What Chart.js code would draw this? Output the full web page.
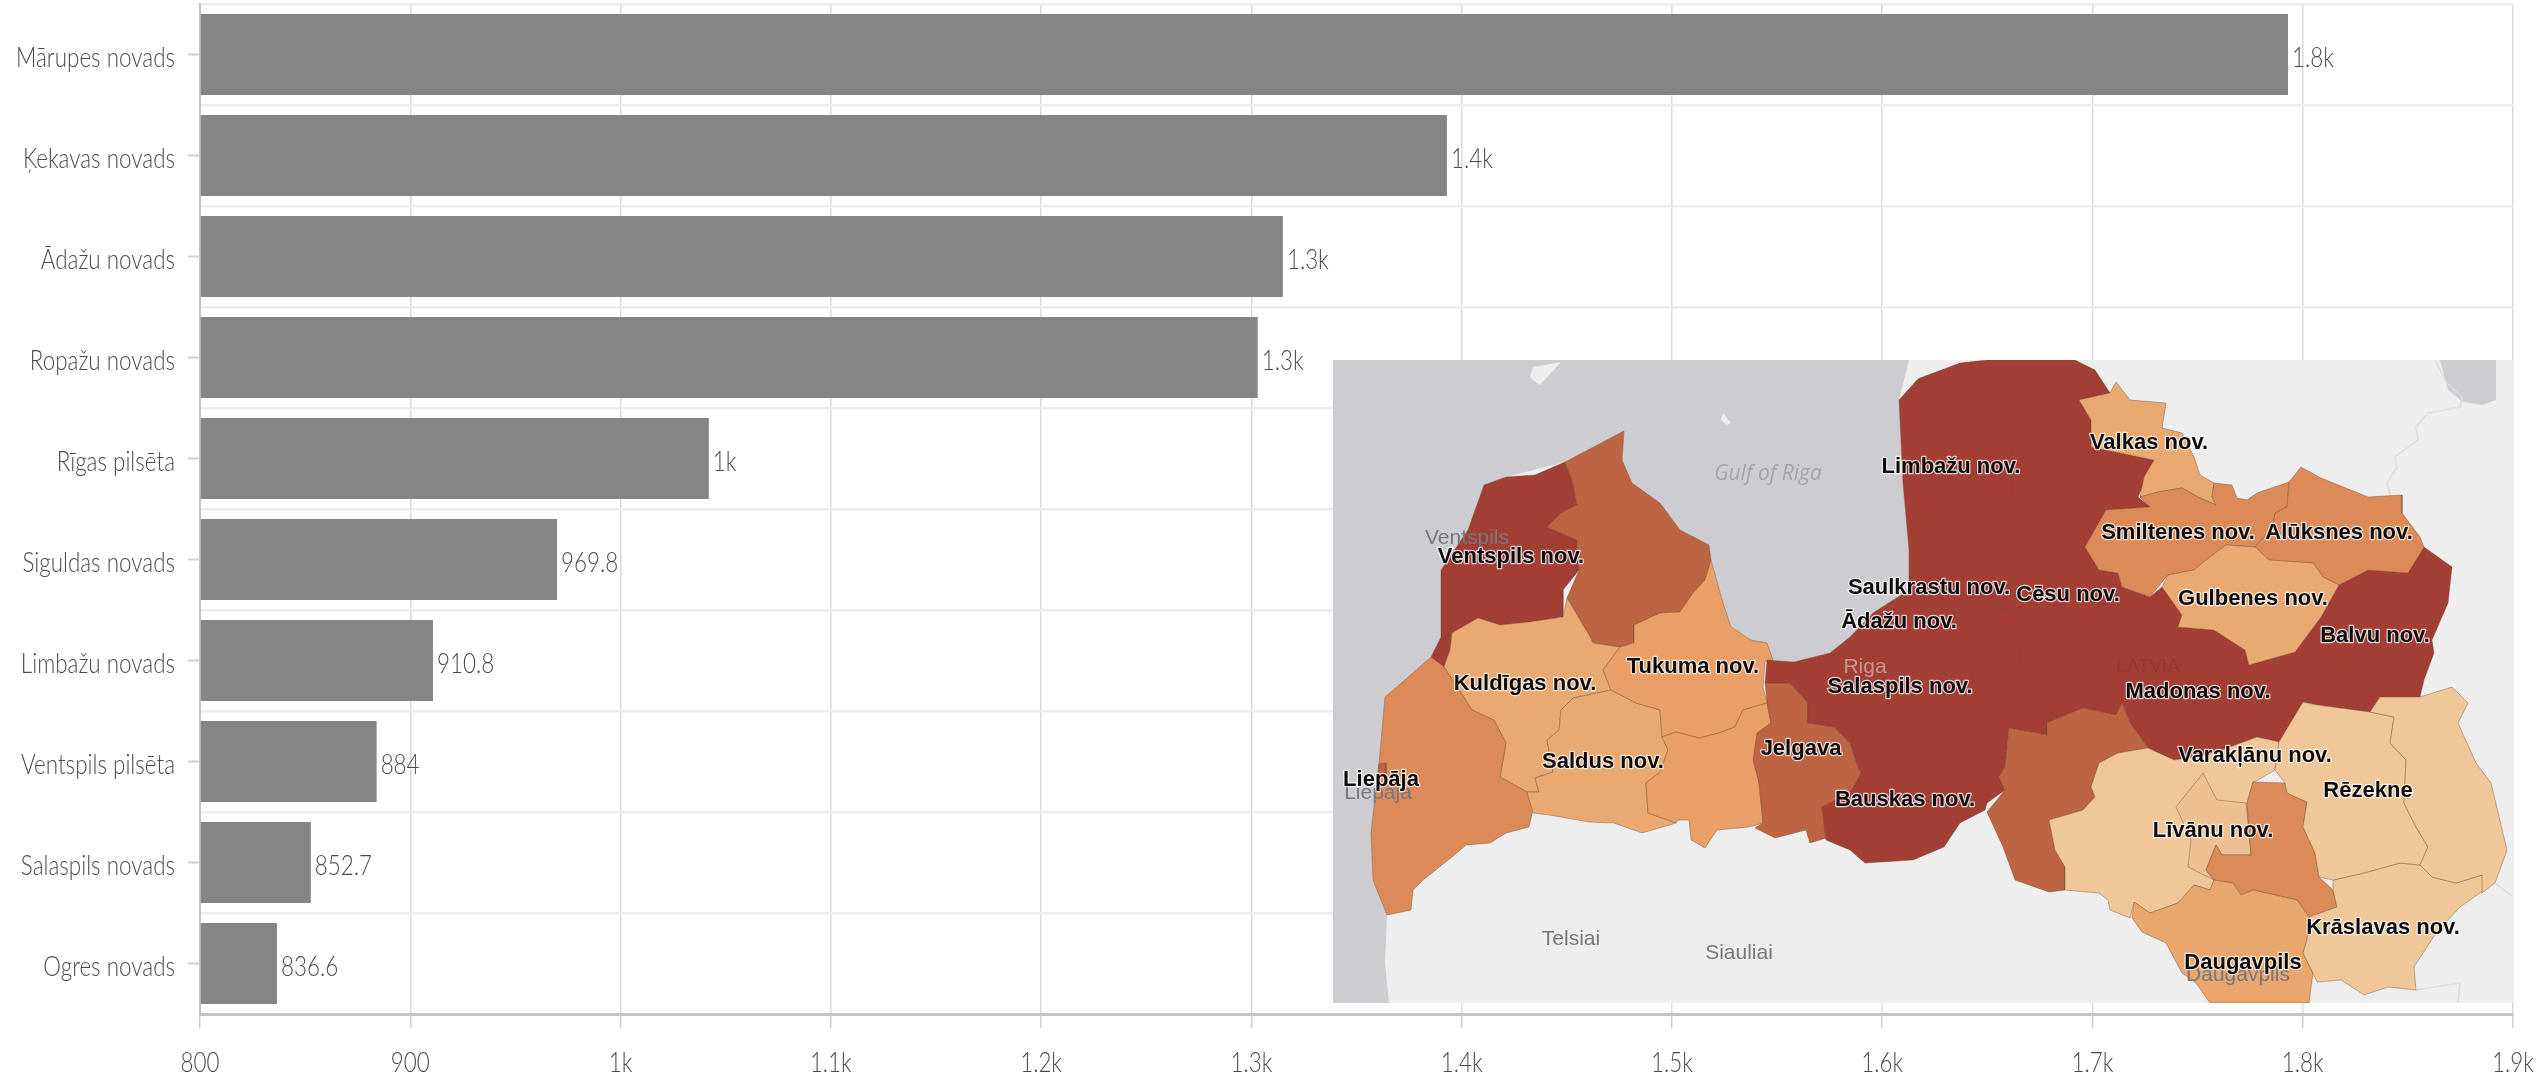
<!DOCTYPE html>
<html>
<head>
<meta charset="utf-8">
<style>
html, body { margin: 0; padding: 0; background: #fff; overflow: hidden; }
#barChart { position: absolute; left: 0; top: 0; filter: blur(0.4px); }
#mapChart { position: absolute; left: 1333px; top: 360px; filter: blur(0.5px); }
</style>
<script src="https://cdn.jsdelivr.net/npm/chart.js@4/dist/chart.umd.min.js"></script>
</head>
<body>
<canvas id="barChart" width="2542" height="1078"></canvas>
<canvas id="mapChart" width="1180" height="643"></canvas>
<script>
const categories = ['Mārupes novads', 'Ķekavas novads', 'Ādažu novads', 'Ropažu novads', 'Rīgas pilsēta',
    'Siguldas novads', 'Limbažu novads', 'Ventspils pilsēta', 'Salaspils novads', 'Ogres novads'];
const values = [1793, 1393, 1315, 1303, 1042, 969.8, 910.8, 884, 852.7, 836.6];
const tickValues = [800, 900, 1000, 1100, 1200, 1300, 1400, 1500, 1600, 1700, 1800, 1900];

// map outlines, in map units (0-1180 across, 0-643 down)
const sea = [[0,0],[576,0],[566,40],[570,123],[576,190],[576,230],[540,253],[517,277],[497,293],[461,302],[434,300],[418,280],[398,267],[390,243],[378,200],[376,185],[347,170],[327,143],[299,123],[289,100],[291,71],[232,102],[173,117],[151,125],[135,170],[108,210],[108,277],[98,297],[74,318],[52,337],[46,403],[38,473],[40,520],[54,555],[52,603],[56,643],[0,643]];
const lake = [[1107,0],[1163,0],[1163,40],[1150,45],[1130,42],[1115,30]];
const islandA = [[200,7],[228,2],[207,25],[197,18]];
const islandB = [[390,53],[398,63],[393,65],[388,60]];
const ventspilsNov = [[232,102],[240,123],[244,145],[228,153],[214,167],[244,180],[246,210],[230,230],[230,257],[196,262],[167,265],[145,258],[119,273],[117,290],[111,307],[98,297],[108,277],[108,210],[135,170],[151,125],[173,117],[202,115]];
const talsi = [[291,71],[289,100],[299,123],[327,143],[347,170],[376,185],[378,200],[372,220],[360,233],[347,252],[327,253],[301,265],[301,283],[287,287],[260,283],[256,275],[234,238],[246,210],[244,180],[214,167],[228,153],[244,145],[240,123],[232,102]];
const kuldiga = [[145,258],[167,265],[196,262],[230,257],[234,238],[256,275],[260,283],[287,287],[270,310],[278,330],[240,338],[228,350],[226,370],[214,380],[220,412],[202,418],[206,432],[194,432],[185,427],[167,417],[173,383],[161,360],[139,350],[125,328],[111,307],[117,290],[119,273]];
const liepaja = [[98,297],[111,307],[125,328],[139,350],[161,360],[173,383],[167,417],[185,427],[194,432],[200,450],[196,467],[173,473],[157,483],[133,485],[119,497],[90,520],[80,530],[78,550],[54,555],[40,520],[38,473],[46,403],[52,337],[74,318]];
const liepajaCity = [[46,404],[53,403],[53,414],[45,414]];
const saldus = [[240,338],[278,330],[303,343],[327,350],[329,377],[335,390],[327,412],[313,423],[315,453],[343,463],[309,473],[281,463],[256,462],[216,455],[200,453],[194,432],[206,432],[202,418],[220,412],[214,380],[226,370],[228,350]];
const tukums = [[378,200],[390,243],[398,267],[418,280],[434,283],[440,300],[432,302],[430,327],[434,343],[410,350],[402,367],[386,373],[366,378],[343,372],[329,377],[327,350],[303,343],[278,330],[270,310],[287,287],[301,283],[301,265],[327,253],[347,252],[360,233],[372,220]];
const dobele = [[329,377],[343,372],[366,378],[386,373],[402,367],[410,350],[434,343],[438,363],[424,373],[426,397],[426,423],[430,463],[416,467],[384,470],[372,488],[358,480],[356,460],[345,460],[343,463],[315,453],[313,423],[327,412],[335,390]];
const jelgava = [[432,323],[457,323],[475,343],[475,363],[501,367],[517,383],[525,407],[528,413],[517,433],[489,447],[493,478],[477,483],[473,470],[442,478],[422,468],[430,463],[426,423],[420,400],[424,373],[438,363],[434,343]];
const centre = [[434,300],[461,302],[497,293],[517,277],[540,253],[576,230],[576,190],[570,123],[566,40],[584,20],[587,18],[627,3],[654,0],[742,0],[762,10],[777,33],[746,40],[758,60],[758,87],[821,100],[805,137],[817,147],[773,150],[752,187],[766,210],[785,213],[789,227],[817,237],[829,227],[849,255],[845,267],[881,270],[912,290],[916,305],[962,292],[988,257],[1006,225],[1035,210],[1075,213],[1091,187],[1119,207],[1115,243],[1099,280],[1101,293],[1091,320],[1087,337],[1047,337],[1037,352],[984,345],[970,342],[946,382],[924,377],[897,387],[875,395],[841,400],[815,388],[797,363],[789,343],[783,355],[750,348],[714,363],[714,375],[676,368],[672,407],[666,417],[672,430],[654,443],[652,450],[627,463],[611,487],[587,497],[580,500],[532,503],[517,490],[493,480],[489,447],[517,433],[528,413],[525,407],[517,383],[501,367],[475,363],[475,343],[457,323],[432,323]];
const valka = [[783,22],[797,40],[833,43],[829,68],[849,73],[861,97],[867,115],[881,123],[879,137],[883,145],[865,137],[849,128],[825,132],[807,137],[811,117],[821,100],[758,87],[758,60],[746,40],[777,33]];
const smiltene = [[807,137],[825,132],[849,128],[865,137],[883,145],[879,137],[881,123],[899,125],[904,138],[914,140],[924,133],[956,122],[954,147],[942,153],[940,167],[922,187],[893,185],[873,200],[861,210],[835,215],[825,227],[817,237],[789,227],[785,213],[766,210],[752,187],[773,150],[817,147]];
const aluksne = [[968,107],[988,118],[1035,137],[1069,135],[1069,153],[1087,177],[1091,187],[1075,213],[1035,210],[1006,225],[990,217],[980,203],[952,202],[936,200],[922,187],[940,167],[942,153],[954,147],[956,122]];
const gulbene = [[922,187],[936,200],[980,203],[990,217],[1006,225],[988,257],[962,292],[916,305],[912,290],[881,270],[845,267],[849,255],[829,227],[835,215],[861,210],[873,200],[893,185]];
const aizkraukle = [[750,348],[783,355],[789,343],[797,363],[815,388],[785,393],[766,403],[758,427],[762,437],[750,450],[716,460],[722,490],[732,507],[732,530],[716,532],[682,520],[670,487],[654,452],[672,430],[666,417],[672,407],[676,368],[714,375],[714,363]];
const jekabpils = [[815,388],[841,400],[875,395],[897,387],[924,377],[946,382],[942,410],[925,420],[920,422],[914,443],[918,495],[889,495],[883,485],[873,510],[881,520],[877,530],[861,525],[845,543],[817,553],[801,542],[797,558],[777,550],[775,540],[766,533],[732,530],[732,507],[722,490],[716,460],[750,450],[762,437],[758,427],[766,403],[785,393]];
const preili = [[920,422],[952,423],[954,433],[974,442],[970,467],[982,493],[986,517],[1000,530],[1004,547],[976,557],[964,540],[920,530],[908,535],[900,523],[881,520],[873,510],[883,485],[889,495],[918,495],[914,443]];
const daugavpils = [[881,520],[900,523],[908,535],[920,530],[964,540],[976,557],[974,580],[970,593],[980,613],[976,643],[877,643],[863,623],[849,613],[833,583],[809,572],[799,558],[801,542],[817,553],[845,543],[861,525],[877,530]];
const kraslava = [[1000,520],[1031,513],[1067,503],[1087,505],[1099,517],[1123,523],[1149,515],[1152,530],[1147,533],[1127,547],[1103,573],[1081,607],[1083,630],[1055,627],[1031,635],[1008,620],[984,622],[980,613],[970,593],[974,580],[976,557],[1004,547],[1000,530]];
const rezekne = [[970,342],[984,345],[1037,352],[1061,357],[1057,383],[1073,400],[1071,443],[1083,467],[1095,487],[1087,505],[1067,503],[1031,513],[1000,520],[986,517],[982,493],[970,467],[974,442],[954,433],[952,423],[942,410],[946,382]];
const ludza = [[1037,352],[1047,337],[1087,337],[1119,327],[1135,343],[1125,363],[1143,403],[1158,423],[1174,490],[1162,523],[1149,533],[1149,515],[1123,523],[1099,517],[1087,505],[1095,487],[1083,467],[1071,443],[1073,400],[1057,383],[1061,357]];
const livani = [[870,413],[884,440],[913,443],[918,495],[889,495],[883,485],[873,510],[881,520],[855,507],[858,480],[843,447]];

const landShapes = [sea, lake];
const landIslands = [islandA, islandB];
const regionShapes = [ventspilsNov, talsi, kuldiga, liepaja, liepajaCity, saldus, tukums, dobele, jelgava, centre, valka, smiltene, aluksne, gulbene, aizkraukle, jekabpils, livani, preili, daugavpils, kraslava, rezekne, ludza];
const regionColors = ['#a33e35', '#bd6443', '#eaa971', '#dc8a58', '#bd6443', '#eaa971', '#e99f65', '#e99f65', '#bd6443', '#a33e35', '#eaa971', '#dc8a58', '#dc8a58', '#eaa971', '#bd6443', '#f0c799', '#eec08f', '#dc8a58', '#e9a66d', '#f0c799', '#f0c799', '#f0c799'];

const faintBorders = [
    [[1102,0],[1114,23],[1129,37],[1127,47],[1095,53],[1083,67],[1085,80],[1062,97],[1064,107],[1054,123],[1058,137]],
    [[1162,523],[1180,537]],
    [[1083,630],[1127,623],[1125,643]]
];
const innerBorders = [
    [[643,10],[654,50],[678,73],[680,147],[698,170],[734,180],[752,187]],
    [[680,147],[647,177],[623,197],[666,247],[690,257],[686,307]],
    [[809,267],[807,310]],
    [[552,347],[587,397],[611,387],[627,417]],
    [[666,247],[730,262],[748,300],[750,348]]
];

const basemapNames = ['Ventspils', 'Riga', 'Liepāja', 'Telsiai', 'Siauliai', 'Daugavpils'];
const basemapX = [134, 532, 45, 238, 406, 905];
const basemapY = [178, 307, 433, 579, 593, 615];
const placeNames = ['Valkas nov.', 'Limbažu nov.', 'Smiltenes nov.', 'Alūksnes nov.', 'Ventspils nov.', 'Saulkrastu nov.',
    'Cēsu nov.', 'Gulbenes nov.', 'Ādažu nov.', 'Balvu nov.', 'Tukuma nov.', 'Kuldīgas nov.', 'Salaspils nov.',
    'Madonas nov.', 'Saldus nov.', 'Jelgava', 'Varakļānu nov.', 'Rēzekne', 'Līvānu nov.', 'Bauskas nov.',
    'Liepāja', 'Krāslavas nov.', 'Daugavpils'];
const placeX = [816, 618, 845, 1006, 178, 596, 735, 920, 566, 1042, 360, 192, 567, 865, 270, 468, 922, 1035, 880, 572, 48, 1050, 910];
const placeY = [83, 107, 173, 173, 197, 228, 235, 239, 262, 276, 307, 324, 327, 332, 402, 389, 396, 431, 471, 440, 420, 568, 603];

function fmt(v) {
    if (v < 1000) return String(v);
    return (Math.round(v / 100) / 10) + 'k';
}

// the source text is tall and narrow, so squeeze it sideways
function narrowText(ctx, text, x, y, align) {
    ctx.save();
    ctx.translate(x, y + 3);
    ctx.scale(0.8, 1);
    ctx.font = '300 28px Lato';
    ctx.fillStyle = '#474b50';
    ctx.textBaseline = 'middle';
    ctx.textAlign = align;
    ctx.fillText(text, 0, 0);
    ctx.restore();
}

// value labels, axis labels and the short tick stubs at the middle of each band
const barExtras = {
    id: 'barExtras',
    afterDatasetsDraw(chart) {
        const ctx = chart.ctx;
        const meta = chart.getDatasetMeta(0);
        const x = chart.scales.x, y = chart.scales.y;
        ctx.save();
        ctx.strokeStyle = '#cfcfcf';
        ctx.lineWidth = 2;
        categories.forEach((c, i) => {
            const py = y.getPixelForValue(i);
            ctx.beginPath();
            ctx.moveTo(y.right - 12, py);
            ctx.lineTo(y.right, py);
            ctx.stroke();
            narrowText(ctx, c, y.right - 25, py, 'right');
        });
        meta.data.forEach((bar, i) => {
            narrowText(ctx, fmt(values[i]), bar.x + 4, bar.y, 'left');
        });
        tickValues.forEach(v => {
            narrowText(ctx, fmt(v), x.getPixelForValue(v), x.top + 46, 'center');
        });
        ctx.restore();
    }
};

new Chart(document.getElementById('barChart').getContext('2d'), {
    type: 'bar',
    data: {
        labels: categories,
        datasets: [{
            data: values,
            backgroundColor: '#858585',
            barPercentage: 0.8,
            categoryPercentage: 1,
            base: 800
        }]
    },
    plugins: [barExtras],
    options: {
        indexAxis: 'y',
        responsive: false,
        animation: false,
        layout: { padding: { top: 4, right: 29, left: 0, bottom: 0 } },
        plugins: { legend: { display: false }, tooltip: { enabled: false } },
        scales: {
            x: {
                min: 800,
                max: 1900,
                afterBuildTicks(axis) { axis.ticks = tickValues.map(v => ({ value: v })); },
                afterFit(axis) { axis.height = 64; axis.paddingLeft = 0; axis.paddingRight = 0; },
                grid: { color: '#dadada', lineWidth: 1.5, tickLength: 14, tickColor: '#cfcfcf' },
                border: { color: '#c4c4c4', width: 3 },
                ticks: {
                    display: false,
                    maxRotation: 0,
                    autoSkip: false
                }
            },
            y: {
                afterFit(axis) { axis.width = 200; axis.paddingTop = 0; axis.paddingBottom = 0; },
                grid: { color: '#ececec', lineWidth: 2.5, offset: true, drawTicks: false },
                border: { color: '#c4c4c4', width: 2 },
                ticks: { display: false }
            }
        }
    }
});

function toPoints(shape, close) {
    const pts = shape.map(p => ({ x: p[0], y: p[1] }));
    if (close) pts.push({ x: shape[0][0], y: shape[0][1] });
    return pts;
}

function filled(shape, color, edge) {
    return { data: toPoints(shape, true), showLine: true, fill: 'shape', backgroundColor: color,
        borderColor: edge, borderWidth: edge === color ? 0 : 1, pointRadius: 0, tension: 0 };
}

function stroked(shape, color) {
    return { data: toPoints(shape, false), showLine: true, fill: false, borderColor: color,
        borderWidth: 1.5, pointRadius: 0, tension: 0 };
}

const mapDatasets = [];
landShapes.forEach(s => mapDatasets.push(filled(s, '#cdcdd1', '#cdcdd1')));
landIslands.forEach(s => mapDatasets.push(filled(s, '#eeeeef', '#eeeeef')));
faintBorders.forEach(s => mapDatasets.push(stroked(s, '#dcdde0')));
regionShapes.forEach((s, i) => mapDatasets.push(filled(s, regionColors[i], 'rgba(110,70,45,0.4)')));
innerBorders.forEach(s => mapDatasets.push(stroked(s, '#96423a')));
// chart.js paints the first dataset last, so put the sea at the back
mapDatasets.forEach((d, i) => { d.order = mapDatasets.length - i; });

const mapLabels = {
    id: 'mapLabels',
    beforeDatasetsDraw(chart) {
        const ctx = chart.ctx;
        ctx.fillStyle = '#eeeeef';
        ctx.fillRect(0, 0, chart.width, chart.height);
    },
    afterDatasetsDraw(chart) {
        const ctx = chart.ctx;
        const sx = chart.scales.x, sy = chart.scales.y;
        ctx.save();
        ctx.textAlign = 'center';
        ctx.textBaseline = 'middle';
        ctx.font = '21px "Liberation Sans"';
        basemapNames.forEach((n, i) => {
            ctx.fillStyle = i === 1 ? 'rgba(210,190,185,0.7)' : '#77787c';
            ctx.fillText(n, sx.getPixelForValue(basemapX[i]), sy.getPixelForValue(basemapY[i]));
        });
        ctx.font = 'italic 21px "Open Sans"';
        ctx.fillStyle = '#a4a5aa';
        ctx.fillText('Gulf of Riga', sx.getPixelForValue(435), sy.getPixelForValue(114));
        ctx.font = '19px "Liberation Sans"';
        ctx.fillStyle = '#8c3b33';
        ctx.fillText('LATVIA', sx.getPixelForValue(815), sy.getPixelForValue(307));
        ctx.font = 'bold 22px "Liberation Sans"';
        ctx.lineJoin = 'round';
        placeNames.forEach((n, i) => {
            const px = sx.getPixelForValue(placeX[i]), py = sy.getPixelForValue(placeY[i]);
            ctx.strokeStyle = 'rgba(255,255,255,0.75)';
            ctx.lineWidth = 2.5;
            ctx.strokeText(n, px, py);
            ctx.fillStyle = '#0c0c0e';
            ctx.fillText(n, px, py);
        });
        ctx.restore();
    }
};

new Chart(document.getElementById('mapChart').getContext('2d'), {
    type: 'scatter',
    data: { datasets: mapDatasets },
    plugins: [mapLabels],
    options: {
        responsive: false,
        animation: false,
        layout: { padding: 0 },
        plugins: { legend: { display: false }, tooltip: { enabled: false } },
        scales: {
            x: { display: false, min: 0, max: 1180 },
            y: { display: false, min: 0, max: 643, reverse: true }
        }
    }
});
</script>
</body>
</html>
